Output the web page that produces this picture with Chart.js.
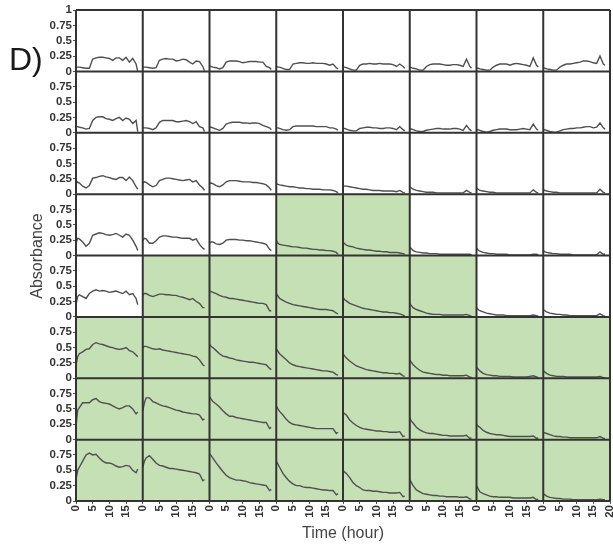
<!DOCTYPE html>
<html>
<head>
<meta charset="utf-8">
<title>Absorbance plate</title>
<script src="https://cdn.jsdelivr.net/npm/chart.js@4.4.0/dist/chart.umd.min.js"></script>
<style>
  body { margin: 0; background: #fff; }
  #wrap { position: relative; width: 613px; height: 548px; font-family: 'Liberation Sans', Arial, sans-serif; }
  #plate { position: absolute; left: 0; top: 0; }
  .lbl { position: absolute; white-space: nowrap; }
  #panel { left: 9px; top: 43px; font-size: 32px; line-height: 32px; color: #1a1a1a; }
  #ylab { left: -63px; top: 247.5px; width: 200px; text-align: center; font-size: 16px; line-height: 16px; color: #444; transform: rotate(-90deg); }
  #xlab { left: 243px; top: 525px; width: 200px; text-align: center; font-size: 16px; line-height: 16px; color: #444; }
</style>
</head>
<body>
<div id="wrap">
  <canvas id="plate" width="613" height="548"></canvas>
  <div class="lbl" id="panel">D)</div>
  <div class="lbl" id="ylab">Absorbance</div>
  <div class="lbl" id="xlab">Time (hour)</div>
</div>
<script>
// sampling times (hours), shared by every well
const TIME = [0, 0.5, 1, 2, 3, 4, 5, 6, 7, 8, 9, 10, 11, 12, 13, 14, 15, 16, 17, 18, 18.5];

// absorbance per well, one array per plate row (top to bottom), 8 columns each
const ROW_1 = [
  [0.07,0.07,0.07,0.06,0.05,0.05,0.20,0.22,0.23,0.23,0.22,0.21,0.18,0.22,0.22,0.18,0.23,0.15,0.21,0.12,0.00],
  [0.07,0.07,0.07,0.06,0.05,0.06,0.18,0.20,0.21,0.20,0.20,0.17,0.18,0.20,0.19,0.15,0.12,0.17,0.16,0.08,0.01],
  [0.08,0.08,0.07,0.06,0.04,0.06,0.15,0.17,0.17,0.17,0.16,0.14,0.15,0.16,0.16,0.16,0.15,0.15,0.08,0.06,0.03],
  [0.08,0.07,0.07,0.05,0.03,0.03,0.12,0.13,0.14,0.14,0.13,0.13,0.14,0.13,0.13,0.13,0.12,0.10,0.12,0.06,0.04],
  [0.07,0.07,0.06,0.04,0.02,0.02,0.10,0.12,0.12,0.13,0.12,0.12,0.13,0.12,0.12,0.12,0.11,0.08,0.12,0.08,0.05],
  [0.07,0.06,0.05,0.04,0.02,0.02,0.08,0.11,0.12,0.12,0.12,0.11,0.10,0.10,0.11,0.11,0.10,0.08,0.20,0.08,0.05],
  [0.05,0.05,0.04,0.03,0.02,0.02,0.07,0.10,0.12,0.12,0.12,0.10,0.12,0.13,0.12,0.11,0.10,0.08,0.22,0.10,0.07],
  [0.05,0.05,0.04,0.03,0.02,0.02,0.07,0.10,0.12,0.12,0.13,0.14,0.15,0.17,0.17,0.16,0.14,0.13,0.25,0.12,0.10]
];
const ROW_2 = [
  [0.10,0.10,0.09,0.08,0.06,0.07,0.20,0.25,0.26,0.26,0.23,0.22,0.20,0.23,0.25,0.20,0.24,0.22,0.15,0.20,0.02],
  [0.08,0.08,0.08,0.07,0.05,0.08,0.17,0.20,0.20,0.20,0.20,0.18,0.18,0.19,0.20,0.18,0.15,0.18,0.10,0.08,0.02],
  [0.09,0.09,0.08,0.06,0.04,0.07,0.14,0.16,0.17,0.17,0.17,0.16,0.16,0.15,0.16,0.16,0.15,0.12,0.10,0.08,0.05],
  [0.08,0.08,0.07,0.05,0.04,0.05,0.10,0.11,0.11,0.11,0.11,0.11,0.11,0.10,0.10,0.10,0.10,0.08,0.08,0.06,0.04],
  [0.07,0.07,0.06,0.04,0.03,0.03,0.07,0.08,0.09,0.09,0.08,0.08,0.07,0.07,0.08,0.08,0.07,0.05,0.10,0.05,0.03],
  [0.06,0.06,0.05,0.03,0.02,0.02,0.04,0.05,0.06,0.07,0.07,0.06,0.06,0.06,0.07,0.07,0.06,0.04,0.12,0.05,0.03],
  [0.05,0.05,0.04,0.02,0.01,0.02,0.04,0.05,0.06,0.06,0.06,0.05,0.05,0.05,0.06,0.07,0.06,0.05,0.14,0.06,0.04],
  [0.05,0.05,0.04,0.02,0.01,0.01,0.03,0.05,0.06,0.07,0.07,0.08,0.08,0.09,0.10,0.10,0.08,0.09,0.16,0.08,0.06]
];
const ROW_3 = [
  [0.17,0.20,0.18,0.13,0.10,0.14,0.26,0.27,0.29,0.30,0.28,0.27,0.25,0.24,0.27,0.27,0.22,0.28,0.22,0.12,0.08],
  [0.18,0.20,0.19,0.15,0.12,0.14,0.22,0.24,0.26,0.26,0.25,0.24,0.23,0.22,0.23,0.24,0.20,0.22,0.15,0.10,0.06],
  [0.17,0.18,0.17,0.14,0.12,0.15,0.20,0.22,0.22,0.22,0.21,0.20,0.20,0.20,0.19,0.19,0.18,0.17,0.15,0.10,0.06],
  [0.17,0.16,0.15,0.14,0.13,0.12,0.12,0.11,0.10,0.10,0.09,0.09,0.08,0.08,0.08,0.07,0.07,0.07,0.06,0.04,0.02],
  [0.14,0.13,0.13,0.12,0.11,0.10,0.09,0.08,0.08,0.07,0.06,0.06,0.06,0.05,0.05,0.05,0.05,0.04,0.06,0.03,0.02],
  [0.12,0.10,0.08,0.06,0.05,0.04,0.03,0.03,0.03,0.02,0.02,0.02,0.02,0.02,0.02,0.02,0.02,0.02,0.06,0.03,0.02],
  [0.10,0.08,0.06,0.05,0.04,0.03,0.03,0.02,0.02,0.02,0.02,0.02,0.02,0.02,0.02,0.02,0.02,0.02,0.07,0.03,0.02],
  [0.08,0.06,0.05,0.04,0.03,0.03,0.02,0.02,0.02,0.02,0.02,0.02,0.02,0.02,0.02,0.02,0.02,0.02,0.08,0.03,0.02]
];
const ROW_4 = [
  [0.20,0.28,0.27,0.22,0.15,0.20,0.33,0.35,0.37,0.36,0.34,0.33,0.34,0.36,0.33,0.30,0.35,0.33,0.25,0.15,0.08],
  [0.25,0.28,0.27,0.20,0.20,0.24,0.30,0.32,0.32,0.31,0.30,0.30,0.29,0.28,0.28,0.28,0.25,0.27,0.18,0.12,0.10],
  [0.20,0.22,0.22,0.19,0.18,0.20,0.25,0.26,0.26,0.26,0.25,0.25,0.24,0.24,0.23,0.22,0.21,0.20,0.18,0.10,0.08],
  [0.25,0.20,0.18,0.17,0.16,0.15,0.14,0.14,0.13,0.12,0.12,0.11,0.10,0.10,0.09,0.09,0.08,0.08,0.07,0.05,0.02],
  [0.22,0.19,0.17,0.15,0.14,0.12,0.11,0.10,0.09,0.09,0.08,0.07,0.07,0.06,0.06,0.05,0.05,0.05,0.04,0.03,0.02],
  [0.14,0.11,0.08,0.06,0.05,0.04,0.04,0.03,0.03,0.03,0.02,0.02,0.02,0.02,0.02,0.02,0.02,0.02,0.02,0.02,0.01],
  [0.12,0.09,0.07,0.05,0.04,0.03,0.03,0.02,0.02,0.02,0.02,0.01,0.01,0.01,0.01,0.01,0.01,0.01,0.02,0.02,0.01],
  [0.08,0.06,0.05,0.04,0.03,0.03,0.02,0.02,0.02,0.02,0.01,0.01,0.01,0.01,0.01,0.01,0.01,0.01,0.06,0.02,0.02]
];
const ROW_5 = [
  [0.20,0.33,0.36,0.33,0.30,0.38,0.42,0.44,0.42,0.43,0.42,0.40,0.41,0.42,0.40,0.38,0.42,0.36,0.38,0.30,0.20],
  [0.35,0.38,0.38,0.35,0.33,0.35,0.37,0.37,0.36,0.36,0.35,0.35,0.33,0.32,0.30,0.28,0.30,0.25,0.22,0.15,0.15],
  [0.42,0.41,0.40,0.38,0.35,0.33,0.32,0.30,0.30,0.29,0.28,0.27,0.26,0.25,0.24,0.23,0.22,0.22,0.20,0.10,0.10],
  [0.38,0.34,0.30,0.27,0.24,0.22,0.20,0.19,0.18,0.17,0.16,0.15,0.14,0.13,0.12,0.12,0.12,0.11,0.10,0.06,0.05],
  [0.32,0.28,0.26,0.22,0.20,0.18,0.16,0.14,0.13,0.12,0.11,0.10,0.09,0.08,0.08,0.07,0.07,0.06,0.05,0.03,0.02],
  [0.22,0.18,0.15,0.12,0.10,0.08,0.06,0.05,0.04,0.04,0.04,0.03,0.03,0.03,0.03,0.03,0.03,0.03,0.04,0.02,0.01],
  [0.15,0.12,0.10,0.08,0.06,0.05,0.04,0.03,0.03,0.03,0.02,0.02,0.02,0.02,0.02,0.02,0.02,0.02,0.03,0.02,0.01],
  [0.12,0.10,0.08,0.06,0.05,0.04,0.04,0.03,0.03,0.02,0.02,0.02,0.02,0.02,0.02,0.02,0.02,0.02,0.05,0.02,0.01]
];
const ROW_6 = [
  [0.22,0.35,0.40,0.43,0.47,0.48,0.55,0.58,0.56,0.55,0.53,0.51,0.50,0.48,0.47,0.48,0.50,0.45,0.43,0.38,0.35],
  [0.50,0.52,0.52,0.50,0.48,0.47,0.48,0.46,0.45,0.44,0.43,0.42,0.41,0.40,0.39,0.38,0.36,0.35,0.30,0.22,0.20],
  [0.55,0.52,0.50,0.45,0.40,0.36,0.35,0.33,0.32,0.30,0.29,0.28,0.27,0.26,0.26,0.25,0.24,0.23,0.22,0.16,0.14],
  [0.48,0.44,0.40,0.35,0.30,0.25,0.22,0.20,0.19,0.18,0.17,0.16,0.15,0.14,0.13,0.12,0.12,0.11,0.10,0.06,0.05],
  [0.40,0.36,0.33,0.28,0.24,0.20,0.18,0.16,0.14,0.13,0.12,0.11,0.10,0.09,0.09,0.08,0.08,0.07,0.08,0.04,0.03],
  [0.30,0.26,0.22,0.17,0.13,0.10,0.09,0.08,0.07,0.06,0.06,0.05,0.05,0.04,0.04,0.04,0.04,0.04,0.05,0.02,0.01],
  [0.18,0.15,0.12,0.08,0.06,0.05,0.04,0.04,0.03,0.03,0.03,0.03,0.02,0.02,0.02,0.02,0.02,0.03,0.04,0.02,0.01],
  [0.12,0.10,0.08,0.05,0.04,0.03,0.03,0.03,0.02,0.02,0.02,0.02,0.02,0.02,0.02,0.02,0.02,0.02,0.03,0.01,0.01]
];
const ROW_7 = [
  [0.22,0.48,0.52,0.60,0.60,0.60,0.65,0.67,0.62,0.60,0.59,0.58,0.55,0.52,0.50,0.52,0.55,0.55,0.50,0.42,0.45],
  [0.47,0.60,0.68,0.68,0.62,0.60,0.57,0.55,0.54,0.52,0.50,0.48,0.47,0.45,0.44,0.43,0.42,0.42,0.40,0.32,0.34],
  [0.70,0.66,0.62,0.58,0.53,0.47,0.42,0.38,0.38,0.36,0.35,0.34,0.33,0.32,0.31,0.30,0.29,0.28,0.28,0.18,0.20],
  [0.55,0.50,0.46,0.40,0.33,0.28,0.25,0.24,0.23,0.22,0.21,0.20,0.19,0.18,0.18,0.18,0.18,0.18,0.18,0.10,0.12],
  [0.45,0.42,0.40,0.32,0.27,0.23,0.20,0.18,0.17,0.16,0.15,0.14,0.14,0.13,0.13,0.12,0.12,0.12,0.13,0.05,0.06],
  [0.35,0.30,0.27,0.20,0.16,0.13,0.11,0.10,0.10,0.09,0.08,0.07,0.07,0.06,0.06,0.06,0.06,0.06,0.07,0.02,0.03],
  [0.25,0.22,0.20,0.15,0.12,0.10,0.09,0.08,0.08,0.07,0.06,0.05,0.05,0.05,0.05,0.05,0.05,0.05,0.06,0.02,0.03],
  [0.12,0.11,0.10,0.08,0.06,0.05,0.05,0.04,0.04,0.03,0.03,0.03,0.03,0.03,0.03,0.03,0.03,0.03,0.05,0.02,0.02]
];
const ROW_8 = [
  [0.35,0.50,0.55,0.65,0.75,0.78,0.75,0.76,0.70,0.65,0.62,0.62,0.60,0.57,0.55,0.56,0.58,0.57,0.50,0.46,0.52],
  [0.55,0.65,0.70,0.74,0.68,0.62,0.58,0.57,0.55,0.53,0.53,0.52,0.51,0.50,0.49,0.48,0.47,0.46,0.44,0.33,0.35],
  [0.77,0.74,0.70,0.62,0.55,0.48,0.42,0.38,0.36,0.34,0.34,0.33,0.32,0.30,0.29,0.28,0.27,0.26,0.25,0.17,0.19],
  [0.65,0.60,0.55,0.45,0.38,0.32,0.28,0.25,0.25,0.23,0.22,0.22,0.21,0.20,0.19,0.18,0.18,0.17,0.17,0.10,0.12],
  [0.50,0.47,0.45,0.38,0.30,0.25,0.22,0.18,0.17,0.17,0.16,0.16,0.15,0.14,0.14,0.13,0.13,0.13,0.14,0.07,0.08],
  [0.35,0.30,0.25,0.18,0.15,0.12,0.11,0.10,0.09,0.09,0.08,0.08,0.07,0.07,0.07,0.07,0.06,0.06,0.07,0.03,0.03],
  [0.25,0.20,0.15,0.12,0.10,0.08,0.07,0.07,0.06,0.06,0.06,0.06,0.05,0.05,0.05,0.05,0.05,0.05,0.06,0.02,0.03],
  [0.12,0.10,0.08,0.06,0.05,0.04,0.04,0.03,0.03,0.03,0.02,0.02,0.02,0.02,0.02,0.02,0.02,0.02,0.03,0.02,0.02]
];
const ROWS = [ROW_1, ROW_2, ROW_3, ROW_4, ROW_5, ROW_6, ROW_7, ROW_8];

// highlighted wells as [row, column], counted from the top-left
const GREEN_WELLS = [
  [3, 3], [3, 4],
  [4, 1], [4, 2], [4, 3], [4, 4], [4, 5],
  [5, 0], [5, 1], [5, 2], [5, 3], [5, 4], [5, 5], [5, 6], [5, 7],
  [6, 0], [6, 1], [6, 2], [6, 3], [6, 4], [6, 5], [6, 6], [6, 7],
  [7, 0], [7, 1], [7, 2], [7, 3], [7, 4], [7, 5], [7, 6], [7, 7]
];

const Y_TICKS = [0, 0.25, 0.5, 0.75, 1];
const X_TICKS = [0, 5, 10, 15, 20];

const NROWS = ROWS.length;
const NCOLS = ROW_1.length;
const LINE_COLOR = '#4f4f4f';
const WELL_FILL = '#c5e0b4';
const GRID_COLOR = '#333';
const tickFont = { family: "'Liberation Sans', Arial, sans-serif", size: 11.5, weight: 'bold' };

const datasets = [];
ROWS.forEach((row, r) => {
  row.forEach((vals, c) => {
    datasets.push({
      data: TIME.map((t, i) => ({ x: t, y: vals[i] })),
      xAxisID: 'x' + c,
      yAxisID: 'y' + r,
      borderColor: LINE_COLOR,
      borderWidth: 1.4,
      pointRadius: 0,
      tension: 0,
      fill: false
    });
  });
});

const scales = {};
for (let c = 0; c < NCOLS; c++) {
  scales['x' + c] = {
    type: 'linear',
    position: 'bottom',
    stack: 'time',
    min: 0,
    max: 20,
    afterBuildTicks: s => { s.ticks = X_TICKS.map(v => ({ value: v })); },
    afterFit: s => { s.height = 47; s.paddingLeft = 0; s.paddingRight = 0; },
    grid: { display: true, drawOnChartArea: false, drawTicks: true, tickLength: 3, color: '#555' },
    border: { display: false },
    ticks: {
      autoSkip: false, minRotation: 90, maxRotation: 90, padding: 1,
      color: '#333', font: tickFont,
      // the 20 only shows under the last column, elsewhere the next 0 sits there
      callback: v => (v === 20 && c < NCOLS - 1) ? '' : String(v)
    }
  };
}
for (let r = 0; r < NROWS; r++) {
  scales['y' + r] = {
    type: 'linear',
    position: 'left',
    stack: 'absorbance',
    weight: NROWS - r,
    min: 0,
    max: 1,
    afterBuildTicks: s => { s.ticks = Y_TICKS.map(v => ({ value: v })); },
    afterFit: s => { s.width = 76; s.paddingTop = 0; s.paddingBottom = 0; },
    grid: { display: true, drawOnChartArea: false, drawTicks: true, tickLength: 3, color: '#555' },
    border: { display: false },
    ticks: {
      autoSkip: false, padding: 1, color: '#333', font: tickFont,
      callback: v => (v === 1 && r > 0) ? '' : String(v)
    }
  };
}

// fills the highlighted wells and draws the plate grid
const wellPlate = {
  id: 'wellPlate',
  beforeDatasetsDraw(chart) {
    const ctx = chart.ctx;
    ctx.save();
    ctx.fillStyle = WELL_FILL;
    GREEN_WELLS.forEach(([r, c]) => {
      const xs = chart.scales['x' + c];
      const ys = chart.scales['y' + r];
      const left = xs.getPixelForValue(0), right = xs.getPixelForValue(20);
      const top = ys.getPixelForValue(1), bottom = ys.getPixelForValue(0);
      ctx.fillRect(left, top, right - left, bottom - top);
    });
    ctx.restore();
  },
  afterDatasetsDraw(chart) {
    const ctx = chart.ctx;
    const area = chart.chartArea;
    ctx.save();
    ctx.strokeStyle = GRID_COLOR;
    ctx.lineWidth = 2;
    ctx.beginPath();
    for (let c = 0; c < NCOLS; c++) {
      const x = chart.scales['x' + c].getPixelForValue(0);
      ctx.moveTo(x, area.top);
      ctx.lineTo(x, area.bottom);
    }
    const xEnd = chart.scales['x' + (NCOLS - 1)].getPixelForValue(20);
    ctx.moveTo(xEnd, area.top);
    ctx.lineTo(xEnd, area.bottom);
    for (let r = 0; r < NROWS; r++) {
      const y = chart.scales['y' + r].getPixelForValue(1);
      ctx.moveTo(area.left, y);
      ctx.lineTo(area.right, y);
    }
    const yEnd = chart.scales['y' + (NROWS - 1)].getPixelForValue(0);
    ctx.moveTo(area.left, yEnd);
    ctx.lineTo(area.right, yEnd);
    ctx.stroke();
    ctx.restore();
  }
};

new Chart(document.getElementById('plate'), {
  type: 'line',
  data: { datasets },
  options: {
    responsive: false,
    animation: false,
    devicePixelRatio: 1,
    layout: { padding: { top: 10, right: 3, left: 0, bottom: 0 } },
    plugins: { legend: { display: false }, tooltip: { enabled: false } },
    scales
  },
  plugins: [wellPlate]
});
</script>
</body>
</html>
